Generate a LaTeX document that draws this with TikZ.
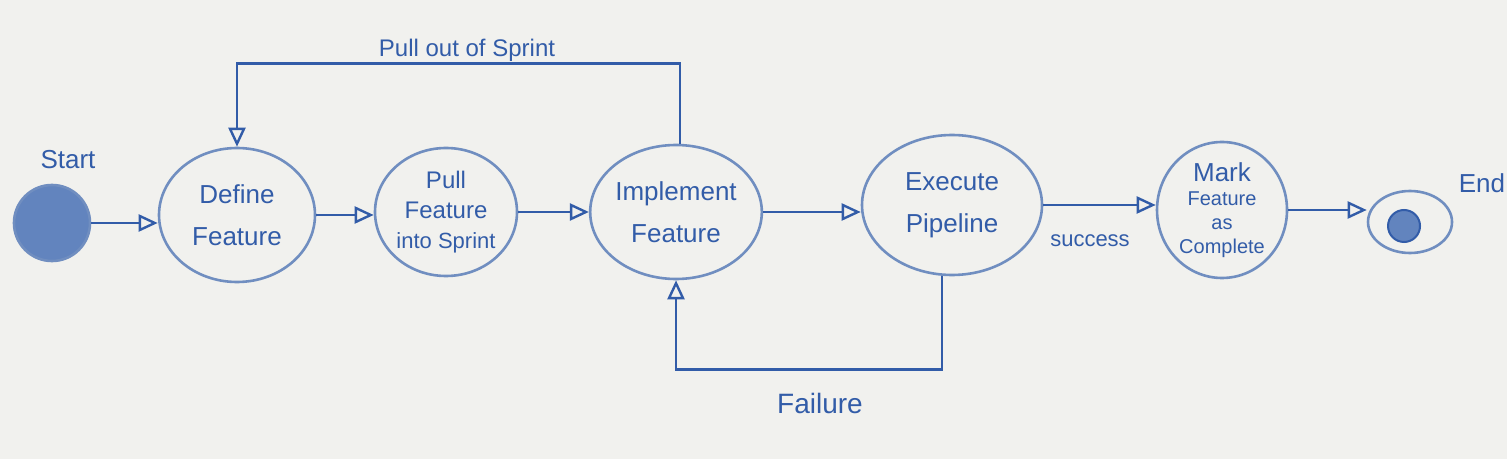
\documentclass[tikz,border=0pt]{standalone}
\usepackage{fontspec}
\setmainfont{Liberation Sans}
\usetikzlibrary{arrows.meta,shapes.geometric}
\definecolor{ink}{RGB}{50,92,168}
\definecolor{rim}{RGB}{112,142,192}
\definecolor{board}{RGB}{241,241,238}
\definecolor{blob}{RGB}{98,132,190}
\tikzset{
  state/.style={ellipse, draw=rim, line width=1.3pt, inner sep=0pt, text=ink, align=center},
  conn/.style={draw=ink, line width=1.4pt, -{Triangle[open, length=9.5pt, width=8.5pt, line width=1.2pt]}},
  lbl/.style={text=ink, inner sep=0pt},
}
\begin{document}
\begin{tikzpicture}[x=0.5pt, y=-0.5pt]
\useasboundingbox (0,0) rectangle (1507,459);
\fill[board] (0,0) rectangle (1507,459);
% start / end
\node[circle, fill=blob, draw=rim, line width=1.3pt, minimum size=38pt, inner sep=0pt] (start) at (52,223) {};
\node[lbl, font=\fontsize{13}{15}\selectfont] (startlbl) at (68,160) {Start};
\node[state, minimum width=42pt, minimum height=31pt] (endo) at (1410,222) {};
\node[circle, fill=blob, draw=ink, line width=1pt, minimum size=16pt, inner sep=0pt] (endi) at (1404,226) {};
\node[lbl, font=\fontsize{13}{15}\selectfont] (endlbl) at (1482,183) {End};
% states
\node[state, minimum width=78pt, minimum height=67pt, font=\fontsize{13}{21}\selectfont] (def) at (237,215) {Define\\Feature};
\node[state, minimum width=71pt, minimum height=64pt, font=\fontsize{12}{15}\selectfont] (pull) at (446,212) {Pull\\Feature\\{\fontsize{11}{15}\selectfont into Sprint}};
\node[state, minimum width=81pt, minimum height=67pt, font=\fontsize{13}{21}\selectfont] (impl) at (676,212) {Implement\\Feature};
\node[state, minimum width=90pt, minimum height=70pt, font=\fontsize{13}{21}\selectfont] (exe) at (952,205) {Execute\\Pipeline};
\node[state, minimum width=65pt, minimum height=68pt, font=\fontsize{10}{12}\selectfont] (mark) at (1222,210) {{\fontsize{13}{15}\selectfont Mark}\\Feature\\as\\Complete};
% flow
\draw[conn] (start) -- (start -| def.west);
\draw[conn] (def) -- (def -| pull.west);
\draw[conn] (pull) -- (pull -| impl.west);
\draw[conn] (impl) -- (impl -| exe.west);
\draw[conn] (exe) -- (exe -| mark.west);
\draw[conn] (mark) -- (mark -| endo.west);
\node[lbl, font=\fontsize{11}{13}\selectfont] (succ) at (1090,241) {success};
% loops
\draw[conn] ([xshift=2pt]impl.north) -- ++(0,-80) -| (def.north);
\node[lbl, font=\fontsize{12}{14}\selectfont] (pullout) at (467,50) {Pull out of Sprint};
\draw[conn] ([xshift=-5pt]exe.south) -- ++(0,93) -| (impl.south);
\node[lbl, font=\fontsize{14}{16}\selectfont] (fail) at (820,403) {Failure};
\end{tikzpicture}
\end{document}
